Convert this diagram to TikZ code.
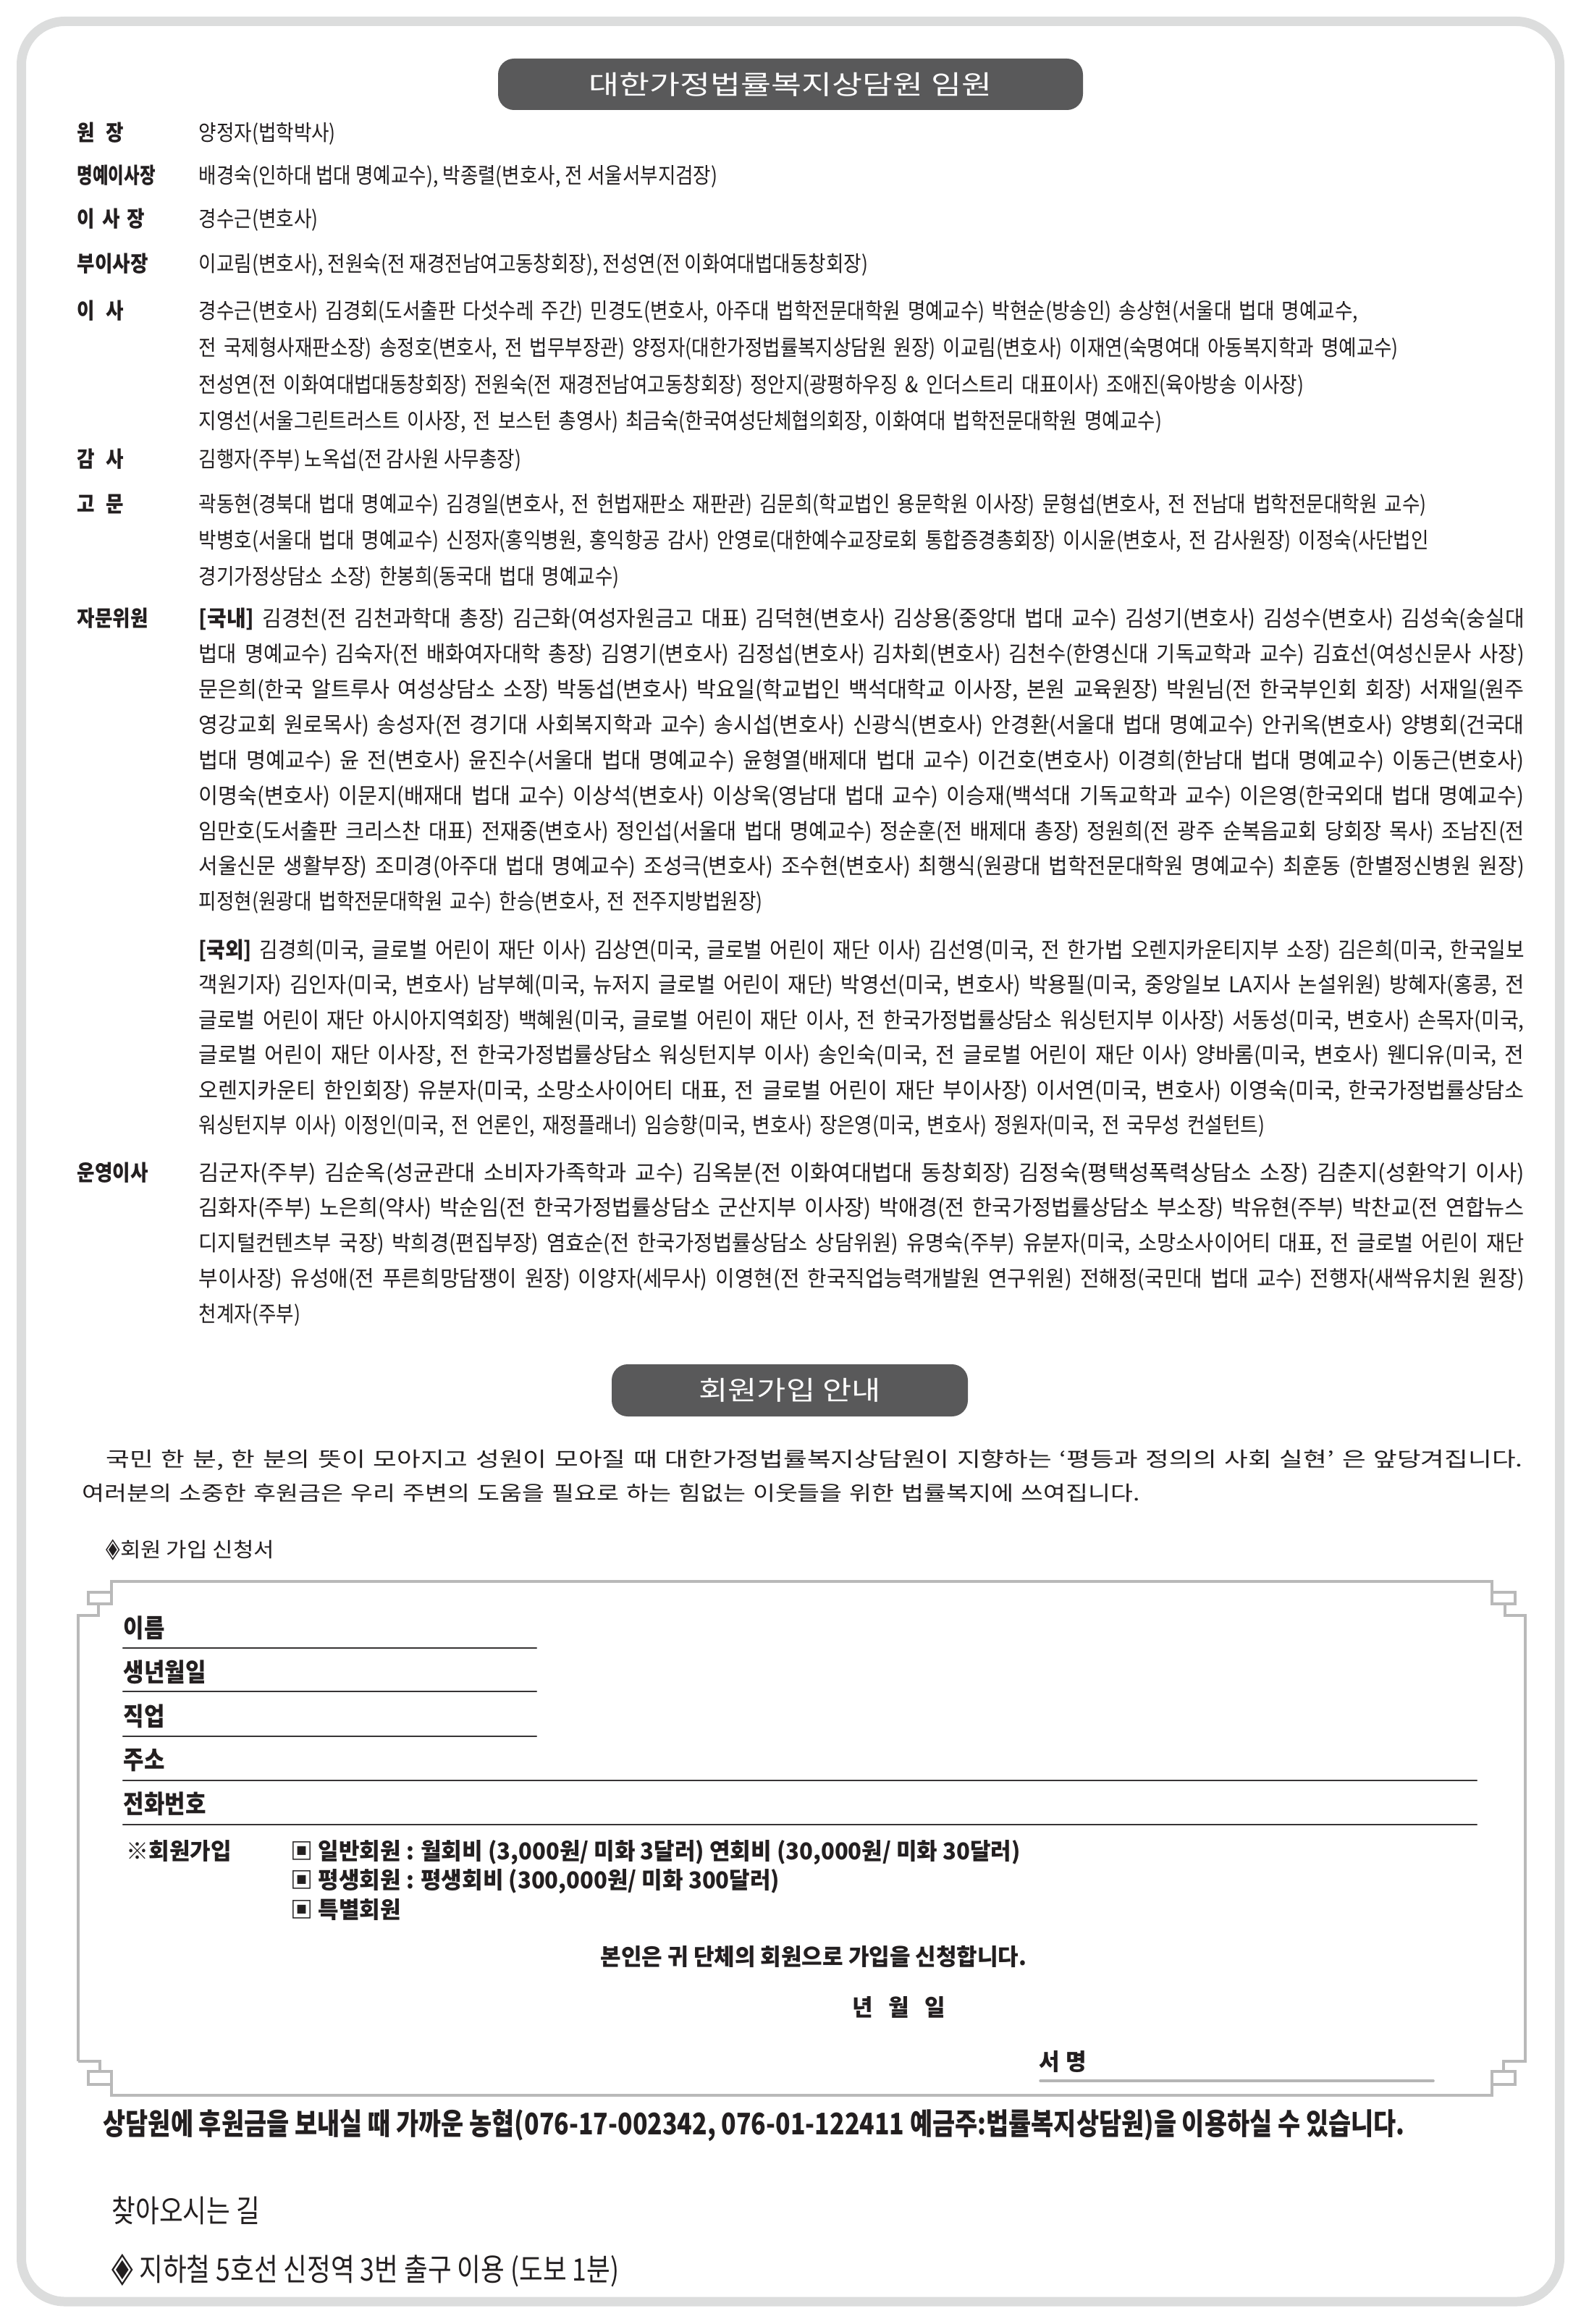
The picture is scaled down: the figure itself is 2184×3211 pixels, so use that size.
\documentclass[tikz,border=0pt]{standalone}
\usepackage{fontspec}
\usepackage{graphicx}
\setmainfont{Noto Sans CJK KR}
\newfontfamily\ko[FakeStretch=0.88]{Noto Sans CJK KR}
\newfontfamily\kof[FakeStretch=0.97]{Noto Sans CJK KR}
\newfontfamily\kow[FakeStretch=1.1]{Noto Sans CJK KR}
\newfontfamily\kon[FakeStretch=0.83]{Noto Sans CJK KR}
\newfontfamily\sym{DejaVu Sans}
\definecolor{ink}{RGB}{35,31,32}
\definecolor{pillgray}{RGB}{89,89,90}
\definecolor{bordergray}{RGB}{220,221,221}
\definecolor{framegray}{RGB}{185,185,185}
\definecolor{linegray}{RGB}{55,52,53}
\definecolor{signgray}{RGB}{180,180,180}
\setlength{\parindent}{0pt}
\begin{document}
\begin{tikzpicture}[x=0.1mm,y=-0.1mm,line cap=round,line join=round,
    txt/.style={anchor=base west,inner sep=0pt,text=ink,font=\ko\fontsize{8.6pt}{13.9pt}\selectfont},
    para/.style={txt,text width=190mm,align=left},
    lbl/.style={txt,font=\ko\bfseries\fontsize{8.6pt}{13.9pt}\selectfont},
    pill/.style={fill=pillgray,rounded corners=2.2mm,inner sep=0pt,text=white,font=\ko\fontsize{10.4pt}{12pt}\selectfont},
    flbl/.style={txt,font=\ko\bfseries\fontsize{10pt}{12pt}\selectfont},
    frm/.style={txt,font=\kof\bfseries\fontsize{9.1pt}{11pt}\selectfont},
    formframe/.style={draw=framegray,line width=0.35mm,line cap=butt,line join=miter},
    fline/.style={draw=linegray,line width=0.22mm}]
        \useasboundingbox (0,0) rectangle (2184,3211);
        \draw [draw=bordergray,line width=1.3mm,rounded corners=6mm] (29.5,29.5) rectangle (2154.5,3180);
        \node [pill,minimum width=80.8mm,minimum height=7.1mm] (hd1) at (1092,116.5) {\resizebox{55.6mm}{\height}{대한가정법률복지상담원 임원}};
        \node [lbl] (l1) at (106,195) {원\enspace 장};
        \node [txt] (t1) at (274,195) {양정자(법학박사)};
        \node [lbl] (l2) at (106,254) {\resizebox{10.8mm}{\height}{명예이사장}};
        \node [txt] (t2) at (274,254) {배경숙(인하대 법대 명예교수), 박종렬(변호사, 전 서울서부지검장)};
        \node [lbl] (l3) at (106,314) {이\hspace{1mm}사\hspace{1mm}장};
        \node [txt] (t3) at (274,314) {경수근(변호사)};
        \node [lbl] (l4) at (106,376) {부이사장};
        \node [txt] (t4) at (274,376) {이교림(변호사), 전원숙(전 재경전남여고동창회장), 전성연(전 이화여대법대동창회장)};
        \node [lbl] (l5) at (106,441) {이\enspace 사};
        \node [para,font=\ko\fontsize{8.6pt}{14.37pt}\selectfont] (t5) at (274,441) {경수근(변호사) 김경회(도서출판 다섯수레 주간) 민경도(변호사, 아주대 법학전문대학원 명예교수) 박현순(방송인) 송상현(서울대 법대 명예교수,\\
            전 국제형사재판소장) 송정호(변호사, 전 법무부장관) 양정자(대한가정법률복지상담원 원장) 이교림(변호사) 이재연(숙명여대 아동복지학과 명예교수)\\
            전성연(전 이화여대법대동창회장) 전원숙(전 재경전남여고동창회장) 정안지(광평하우징 \& 인더스트리 대표이사) 조애진(육아방송 이사장)\\
            지영선(서울그린트러스트 이사장, 전 보스턴 총영사) 최금숙(한국여성단체협의회장, 이화여대 법학전문대학원 명예교수)};
        \node [lbl] (l6) at (106,646) {감\enspace 사};
        \node [txt] (t6) at (274,646) {김행자(주부) 노옥섭(전 감사원 사무총장)};
        \node [lbl] (l7) at (106,708) {고\enspace 문};
        \node [para,font=\ko\fontsize{8.6pt}{14.2pt}\selectfont] (t7) at (274,708) {곽동현(경북대 법대 명예교수) 김경일(변호사, 전 헌법재판소 재판관) 김문희(학교법인 용문학원 이사장) 문형섭(변호사, 전 전남대 법학전문대학원 교수)\\
            박병호(서울대 법대 명예교수) 신정자(홍익병원, 홍익항공 감사) 안영로(대한예수교장로회 통합증경총회장) 이시윤(변호사, 전 감사원장) 이정숙(사단법인\\
            경기가정상담소 소장) 한봉희(동국대 법대 명예교수)};
        \node [lbl] (l8) at (106,866) {자문위원};
        \node [para] (t8) at (274,866) {\resizebox{183.1mm}{\height}{\textbf{[국내]} 김경천(전 김천과학대 총장) 김근화(여성자원금고 대표) 김덕현(변호사) 김상용(중앙대 법대 교수) 김성기(변호사) 김성수(변호사) 김성숙(숭실대}\\
            \resizebox{183.1mm}{\height}{법대 명예교수) 김숙자(전 배화여자대학 총장) 김영기(변호사) 김정섭(변호사) 김차회(변호사) 김천수(한영신대 기독교학과 교수) 김효선(여성신문사 사장)}\\
            \resizebox{183.1mm}{\height}{문은희(한국 알트루사 여성상담소 소장) 박동섭(변호사) 박요일(학교법인 백석대학교 이사장, 본원 교육원장) 박원님(전 한국부인회 회장) 서재일(원주}\\
            \resizebox{183.1mm}{\height}{영강교회 원로목사) 송성자(전 경기대 사회복지학과 교수) 송시섭(변호사) 신광식(변호사) 안경환(서울대 법대 명예교수) 안귀옥(변호사) 양병회(건국대}\\
            \resizebox{183.1mm}{\height}{법대 명예교수) 윤 전(변호사) 윤진수(서울대 법대 명예교수) 윤형열(배제대 법대 교수) 이건호(변호사) 이경희(한남대 법대 명예교수) 이동근(변호사)}\\
            \resizebox{183.1mm}{\height}{이명숙(변호사) 이문지(배재대 법대 교수) 이상석(변호사) 이상욱(영남대 법대 교수) 이승재(백석대 기독교학과 교수) 이은영(한국외대 법대 명예교수)}\\
            \resizebox{183.1mm}{\height}{임만호(도서출판 크리스찬 대표) 전재중(변호사) 정인섭(서울대 법대 명예교수) 정순훈(전 배제대 총장) 정원희(전 광주 순복음교회 당회장 목사) 조남진(전}\\
            \resizebox{183.1mm}{\height}{서울신문 생활부장) 조미경(아주대 법대 명예교수) 조성극(변호사) 조수현(변호사) 최행식(원광대 법학전문대학원 명예교수) 최훈동 (한별정신병원 원장)}\\
            피정현(원광대 법학전문대학원 교수) 한승(변호사, 전 전주지방법원장)};
        \node [para,font=\ko\fontsize{8.6pt}{13.8pt}\selectfont] (t9) at (274,1323) {\resizebox{183.1mm}{\height}{\textbf{[국외]} 김경희(미국, 글로벌 어린이 재단 이사) 김상연(미국, 글로벌 어린이 재단 이사) 김선영(미국, 전 한가법 오렌지카운티지부 소장) 김은희(미국, 한국일보}\\
            \resizebox{183.1mm}{\height}{객원기자) 김인자(미국, 변호사) 남부혜(미국, 뉴저지 글로벌 어린이 재단) 박영선(미국, 변호사) 박용필(미국, 중앙일보 LA지사 논설위원) 방혜자(홍콩, 전}\\
            \resizebox{183.1mm}{\height}{글로벌 어린이 재단 아시아지역회장) 백혜원(미국, 글로벌 어린이 재단 이사, 전 한국가정법률상담소 워싱턴지부 이사장) 서동성(미국, 변호사) 손목자(미국,}\\
            \resizebox{183.1mm}{\height}{글로벌 어린이 재단 이사장, 전 한국가정법률상담소 워싱턴지부 이사) 송인숙(미국, 전 글로벌 어린이 재단 이사) 양바롬(미국, 변호사) 웬디유(미국, 전}\\
            \resizebox{183.1mm}{\height}{오렌지카운티 한인회장) 유분자(미국, 소망소사이어티 대표, 전 글로벌 어린이 재단 부이사장) 이서연(미국, 변호사) 이영숙(미국, 한국가정법률상담소}\\
            워싱턴지부 이사) 이정인(미국, 전 언론인, 재정플래너) 임승향(미국, 변호사) 장은영(미국, 변호사) 정원자(미국, 전 국무성 컨설턴트)};
        \node [lbl] (l10) at (106,1631) {운영이사};
        \node [para] (t10) at (274,1631) {\resizebox{183.1mm}{\height}{김군자(주부) 김순옥(성균관대 소비자가족학과 교수) 김옥분(전 이화여대법대 동창회장) 김정숙(평택성폭력상담소 소장) 김춘지(성환악기 이사)}\\
            \resizebox{183.1mm}{\height}{김화자(주부) 노은희(약사) 박순임(전 한국가정법률상담소 군산지부 이사장) 박애경(전 한국가정법률상담소 부소장) 박유현(주부) 박찬교(전 연합뉴스}\\
            \resizebox{183.1mm}{\height}{디지털컨텐츠부 국장) 박희경(편집부장) 염효순(전 한국가정법률상담소 상담위원) 유명숙(주부) 유분자(미국, 소망소사이어티 대표, 전 글로벌 어린이 재단}\\
            \resizebox{183.1mm}{\height}{부이사장) 유성애(전 푸른희망담쟁이 원장) 이양자(세무사) 이영현(전 한국직업능력개발원 연구위원) 전해정(국민대 법대 교수) 전행자(새싹유치원 원장)}\\
            천계자(주부)};
        \node [pill,minimum width=49.2mm,minimum height=7.2mm] (hd2) at (1091,1921) {\resizebox{25.1mm}{\height}{회원가입 안내}};
        \node [para,text width=200mm,font=\kow\fontsize{8pt}{13.4pt}\selectfont] (intro) at (113,2026) {\hspace*{3.3mm}\resizebox{195.7mm}{\height}{국민 한 분, 한 분의 뜻이 모아지고 성원이 모아질 때 대한가정법률복지상담원이 지향하는 ‘평등과 정의의 사회 실현’ 은 앞당겨집니다.}\\
            \resizebox{146.1mm}{\height}{여러분의 소중한 후원금은 우리 주변의 도움을 필요로 하는 힘없는 이웃들을 위한 법률복지에 쓰여집니다.}};
        \node [txt,font=\kow\fontsize{8pt}{10pt}\selectfont] (apply) at (146,2151) {{\sym\scalebox{0.9}[1.35]{◈}}회원 가입 신청서};
        \draw [formframe] (108,2848) -- (108,2232) -- (136,2232) -- (136,2216);
        \draw [formframe] (122,2200) rectangle (154,2216);
        \draw [formframe] (154,2216) -- (154,2185) -- (2061,2185) -- (2061,2216);
        \draw [formframe] (2061,2200) rectangle (2093,2216);
        \draw [formframe] (2079,2216) -- (2079,2232) -- (2107,2232) -- (2107,2848) -- (2077,2848) -- (2077,2862);
        \draw [formframe] (2061,2862) rectangle (2093,2880);
        \draw [formframe] (2061,2880) -- (2061,2895) -- (154,2895) -- (154,2880);
        \draw [formframe] (122,2862) rectangle (154,2880);
        \draw [formframe] (138,2862) -- (138,2848) -- (108,2848);
        \node [flbl] (f1) at (170,2262) {이름};
        \node [flbl] (f2) at (170,2323) {생년월일};
        \node [flbl] (f3) at (170,2384) {직업};
        \node [flbl] (f4) at (170,2444) {주소};
        \node [flbl] (f5) at (170,2505) {전화번호};
        \draw [fline] (170,2277) -- (741,2277);
        \draw [fline] (170,2337) -- (741,2337);
        \draw [fline] (170,2399) -- (741,2399);
        \draw [fline] (170,2460) -- (2040,2460);
        \draw [fline] (170,2521) -- (2040,2521);
        \node [frm] (join) at (174,2569) {※회원가입};
        \node [frm] (opt1) at (401,2569) {▣ 일반회원 : 월회비 (3,000원/ 미화 3달러) 연회비 (30,000원/ 미화 30달러)};
        \node [frm] (opt2) at (401,2609) {▣ 평생회원 : 평생회비 (300,000원/ 미화 300달러)};
        \node [frm] (opt3) at (401,2650) {▣ 특별회원};
        \node [frm,anchor=base] (pledge) at (1124,2715) {본인은 귀 단체의 회원으로 가입을 신청합니다.};
        \node [frm] (date) at (1177,2785) {년~~~월~~~일};
        \node [frm] (sign) at (1435,2860) {서\hspace{0.8mm}명};
        \draw [draw=signgray,line width=0.35mm] (1437,2875) -- (1980,2875);
        \node [txt,font=\ko\bfseries\fontsize{11.7pt}{14pt}\selectfont] (donate) at (142,2949) {\resizebox{179.8mm}{\height}{상담원에 후원금을 보내실 때 가까운 농협(076-17-002342, 076-01-122411 예금주:법률복지상담원)을 이용하실 수 있습니다.}};
        \node [txt,font=\kon\fontsize{12.2pt}{14pt}\selectfont] (route) at (154,3070) {찾아오시는 길};
        \node [txt,font=\kon\fontsize{12.2pt}{14pt}\selectfont] (subway) at (154,3151) {{\sym\scalebox{0.9}[1.35]{◈}} 지하철 5호선 신정역 3번 출구 이용 (도보 1분)};
    \end{tikzpicture}
\end{document}
